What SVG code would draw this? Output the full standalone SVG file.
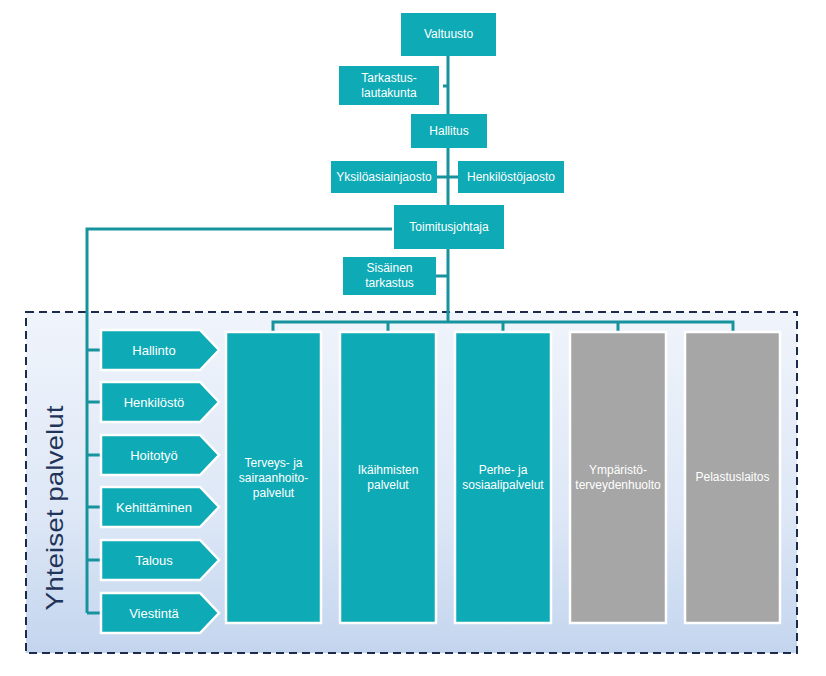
<svg xmlns="http://www.w3.org/2000/svg" width="826" height="676" viewBox="0 0 826 676">
<defs>
<linearGradient id="bg" x1="0" y1="0" x2="0" y2="1">
<stop offset="0" stop-color="#f0f4fb"/>
<stop offset="0.6" stop-color="#dde7f6"/>
<stop offset="1" stop-color="#c3d5ee"/>
</linearGradient>
<style>
.t{fill:#0eaab5}
.g{fill:#a6a6a6}
.wb{stroke:#ffffff;stroke-width:2.5}
.lbl{font-family:"Liberation Sans",Arial,sans-serif;font-size:12px;fill:#ffffff;text-anchor:middle}
.big{font-family:"Liberation Sans",Arial,sans-serif;font-size:13px;fill:#ffffff;text-anchor:middle}
.c{fill:none;stroke:#17939d;stroke-width:3}
</style>
</defs>
<rect width="826" height="676" fill="#ffffff"/>
<g id="yhteiset-palvelut">
<rect x="26" y="312" width="771" height="341" fill="url(#bg)" stroke="#1a2b4c" stroke-width="2" stroke-dasharray="8,5"/>
<text x="63" y="508" transform="rotate(-90 63 508)" font-family="'Liberation Sans',Arial,sans-serif" font-size="24" fill="#1f3458" text-anchor="middle" textLength="205" lengthAdjust="spacingAndGlyphs">Yhteiset palvelut</text>
</g>
<g id="connectors">
<path class="c" d="M448 56V322"/>
<path class="c" d="M443 86H448"/>
<path class="c" d="M437 177H458"/>
<path class="c" d="M436 276H448"/>
<path class="c" d="M392 229H87V613"/>
<path class="c" d="M87 350H102M87 402H102M87 455H102M87 507H102M87 560H102M87 613H102"/>
<path class="c" d="M273 331V322H733V331M388 322V331M503 322V331M618 322V331"/>
</g>
<g id="valtuusto"><rect class="t" x="401" y="13" width="95" height="43"/><text class="lbl" x="448.5" y="38">Valtuusto</text></g>
<g id="tarkastuslautakunta"><rect class="t" x="339" y="66" width="100" height="39"/><text class="lbl" x="389" y="82">Tarkastus-</text><text class="lbl" x="389" y="97">lautakunta</text></g>
<g id="hallitus"><rect class="t" x="411" y="114" width="76" height="34"/><text class="lbl" x="449" y="135">Hallitus</text></g>
<g id="yksiloasiainjaosto"><rect class="t" x="331" y="161" width="106" height="32"/><text class="lbl" x="384" y="181">Yksilöasiainjaosto</text></g>
<g id="henkilostojaosto"><rect class="t" x="458" y="161" width="106" height="32"/><text class="lbl" x="511" y="181">Henkilöstöjaosto</text></g>
<g id="toimitusjohtaja"><rect class="t" x="394" y="205" width="110" height="44"/><text class="lbl" x="449" y="231">Toimitusjohtaja</text></g>
<g id="sisainen-tarkastus"><rect class="t" x="343" y="257" width="93" height="38"/><text class="lbl" x="389.5" y="272">Sisäinen</text><text class="lbl" x="389.5" y="287">tarkastus</text></g>
<g id="hallinto"><polygon class="t wb" points="101,330 200,330 219,350 200,370 101,370"/><text class="big" x="154" y="355">Hallinto</text></g>
<g id="henkilosto"><polygon class="t wb" points="101,382 200,382 219,402 200,422 101,422"/><text class="big" x="154" y="407">Henkilöstö</text></g>
<g id="hoitotyo"><polygon class="t wb" points="101,435 200,435 219,455 200,475 101,475"/><text class="big" x="154" y="460">Hoitotyö</text></g>
<g id="kehittaminen"><polygon class="t wb" points="101,487 200,487 219,507 200,527 101,527"/><text class="big" x="154" y="512">Kehittäminen</text></g>
<g id="talous"><polygon class="t wb" points="101,540 200,540 219,560 200,580 101,580"/><text class="big" x="154" y="565">Talous</text></g>
<g id="viestinta"><polygon class="t wb" points="101,593 200,593 219,613 200,633 101,633"/><text class="big" x="154" y="618">Viestintä</text></g>
<g id="terveys"><rect class="t wb" x="226" y="332" width="95" height="291"/><text class="lbl" x="273.5" y="467">Terveys- ja</text><text class="lbl" x="273.5" y="482">sairaanhoito-</text><text class="lbl" x="273.5" y="497">palvelut</text></g>
<g id="ikaihmiset"><rect class="t wb" x="340" y="332" width="96" height="291"/><text class="lbl" x="388" y="474">Ikäihmisten</text><text class="lbl" x="388" y="489">palvelut</text></g>
<g id="perhe"><rect class="t wb" x="455" y="332" width="96" height="291"/><text class="lbl" x="503" y="474">Perhe- ja</text><text class="lbl" x="503" y="489">sosiaalipalvelut</text></g>
<g id="ymparisto"><rect class="g wb" x="570" y="332" width="96" height="291"/><text class="lbl" x="618" y="474">Ympäristö-</text><text class="lbl" x="618" y="489">terveydenhuolto</text></g>
<g id="pelastus"><rect class="g wb" x="685" y="332" width="95" height="291"/><text class="lbl" x="732.5" y="481">Pelastuslaitos</text></g>
</svg>
